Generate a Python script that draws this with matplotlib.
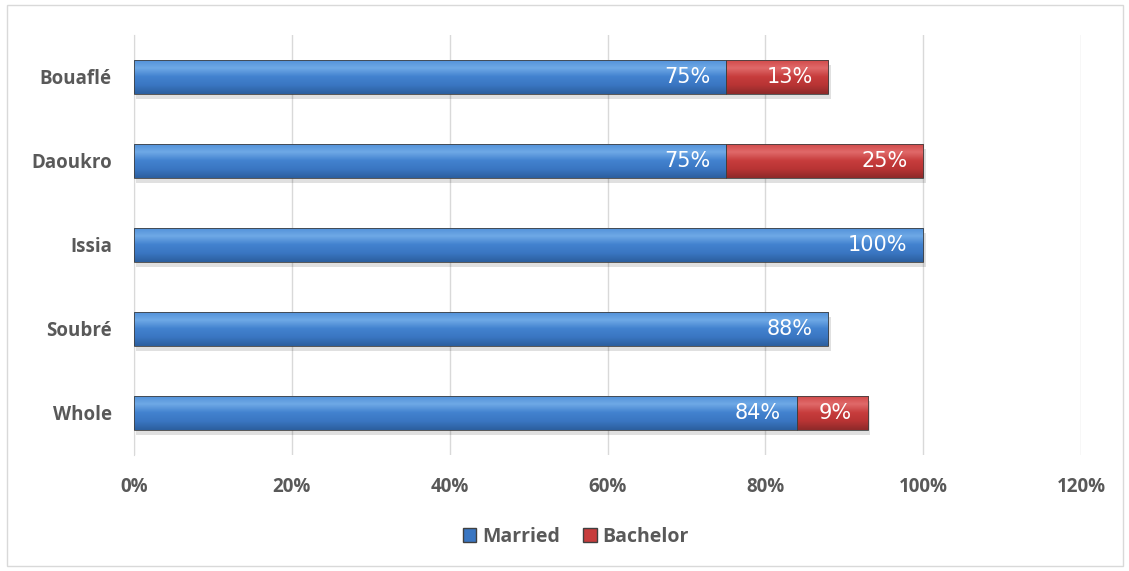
import numpy as np
import matplotlib.pyplot as plt
from matplotlib.patches import Rectangle, Patch
from matplotlib.colors import LinearSegmentedColormap

regions = ['Bouaflé', 'Daoukro', 'Issia', 'Soubré', 'Whole']
married = [75, 75, 100, 88, 84]
bachelor = [13, 25, 0, 0, 9]
xticks = [0, 20, 40, 60, 80, 100, 120]

blue_cm = LinearSegmentedColormap.from_list(
    'b', ['#2c5f9e', '#3a76c2', '#4282cf', '#6fa9e6', '#4f8fd8'])
red_cm = LinearSegmentedColormap.from_list(
    'r', ['#8e2a2a', '#b83434', '#c73d3d', '#e06a6a', '#cf4747'])

plt.rcParams['font.family'] = ['Open Sans', 'DejaVu Sans']
label_font = ['DejaVu Sans Condensed', 'Liberation Sans Narrow', 'DejaVu Sans']

fig = plt.figure(figsize=(11.29, 5.71), dpi=100)
ax = fig.add_axes([0.1187, 0.2032, 0.8388, 0.7355])

# outer frame of the chart area
fig.patches.append(Rectangle((0.006, 0.008), 0.989, 0.983, transform=fig.transFigure,
                             fill=False, edgecolor='#d9d9d9', linewidth=1))

ypos = np.arange(len(regions))
h = 0.41
grad = np.linspace(0, 1, 64).reshape(-1, 1)


def gradient_bar(x0, width, y, cmap):
    if width <= 0:
        return
    # soft shadow under the bar
    ax.add_patch(Rectangle((x0 + 0.3, y - h / 2 + 0.06), width, h, facecolor='#000000',
                           alpha=0.12, edgecolor='none', zorder=2))
    rect = Rectangle((x0, y - h / 2), width, h, facecolor='none',
                     edgecolor='#404040', linewidth=0.6, zorder=4)
    ax.add_patch(rect)
    im = ax.imshow(grad, cmap=cmap, aspect='auto', origin='lower',
                   extent=(x0, x0 + width, y + h / 2, y - h / 2), zorder=3)
    im.set_clip_path(rect)


for i, y in enumerate(ypos):
    gradient_bar(0, married[i], y, blue_cm)
    ax.text(married[i] - 2.0, y, f'{married[i]}%', ha='right', va='center',
            color='white', fontsize=15, family=label_font, zorder=5)
    if bachelor[i] > 0:
        gradient_bar(married[i], bachelor[i], y, red_cm)
        ax.text(married[i] + bachelor[i] - 2.0, y, f'{bachelor[i]}%', ha='right',
                va='center', color='white', fontsize=15, family=label_font, zorder=5)

ax.set_xlim(0, 120)
ax.set_ylim(4.5, -0.5)
ax.set_xticks(xticks)
ax.set_xticklabels([f'{t}%' for t in xticks])
ax.set_yticks(ypos)
ax.set_yticklabels(regions)
ax.tick_params(length=0, labelcolor='#595959')
ax.tick_params(axis='y', labelsize=13.5, pad=16)
ax.tick_params(axis='x', labelsize=13.5, pad=16)
for lbl in ax.get_xticklabels() + ax.get_yticklabels():
    lbl.set_fontweight('bold')
ax.xaxis.grid(True, color='#d9d9d9', linewidth=1)
ax.set_axisbelow(True)
for s in ['top', 'right', 'bottom']:
    ax.spines[s].set_visible(False)
ax.spines['left'].set_color('#d9d9d9')

handles = [Patch(facecolor='#3a76c2', edgecolor='#404040', label='Married'),
           Patch(facecolor='#c73d3d', edgecolor='#404040', label='Bachelor')]
leg = fig.legend(handles=handles, loc='center', bbox_to_anchor=(0.51, 0.06), ncol=2,
                 frameon=False, handlelength=0.7, handleheight=0.7, handletextpad=0.3,
                 columnspacing=1.2, prop={'size': 14, 'weight': 'bold'})
for t in leg.get_texts():
    t.set_color('#595959')

fig.savefig('out.png', dpi=100)
